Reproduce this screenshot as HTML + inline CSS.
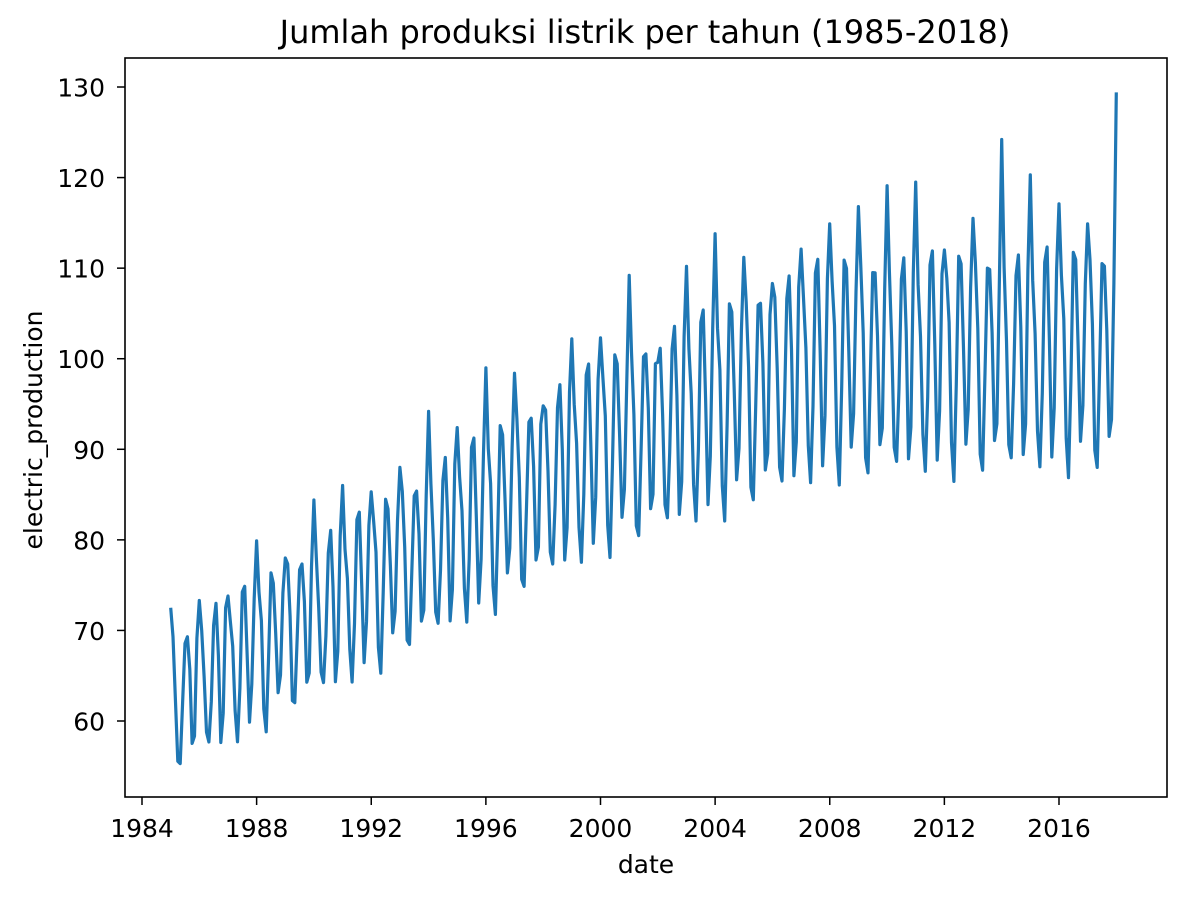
<!DOCTYPE html>
<html><head><meta charset="utf-8"><style>
body{margin:0;background:#fff;}
svg text{font-family:"DejaVu Sans","Liberation Sans",sans-serif;fill:#000;}
</style></head><body>
<svg id="s" width="1186" height="898" xmlns="http://www.w3.org/2000/svg">
<rect width="1186" height="898" fill="#fff"/>
<text x="645" y="43" font-size="32" text-anchor="middle">Jumlah produksi listrik per tahun (1985-2018)</text>
<g id="ticks"></g>
<path id="line" fill="none" stroke="#1f77b4" stroke-width="3.2" stroke-linejoin="round"/>
<rect x="125" y="58" width="1042" height="739" fill="none" stroke="#000" stroke-width="1.6"/>
<text x="646" y="873" font-size="25" text-anchor="middle">date</text>
<text transform="translate(42,430) rotate(-90)" font-size="25" text-anchor="middle">electric_production</text>
</svg>
<script>
var X=function(t){return 142+(t-1984)*28.656;};
var Y=function(v){return 721-(v-60)*9.057;};
var g=document.getElementById('ticks'),h='';
for(var yr=1984;yr<=2016;yr+=4){var x=X(yr);h+='<line x1="'+x+'" y1="797" x2="'+x+'" y2="805" stroke="#000" stroke-width="1.5"/><text x="'+x+'" y="837" font-size="25" text-anchor="middle">'+yr+'</text>';}
for(var v=60;v<=130;v+=10){var y=Y(v);h+='<line x1="117" y1="'+y+'" x2="125" y2="'+y+'" stroke="#000" stroke-width="1.5"/><text x="105" y="'+(y+9.5)+'" font-size="25" text-anchor="end">'+v+'</text>';}
g.innerHTML=h;
var J=[72.5,73.3,73.8,79.9,78,84.4,86,85.3,88,94.2,92.4,99,98.4,94.8,102.2,102.3,109.2,99.6,110.2,113.8,111.2,108.3,112.1,114.9,116.8,119.1,119.5,112,115.5,124.2,120.3,117.1,114.9,129.4];
var s=[1,0.55,0.1,-0.75,-0.95,-0.3,0.6,0.65,0.05,-0.8,-0.55,0.5];
function L(t){if(t<2000)return 63+(t-1985)*28/15;if(t<2008)return 91+(t-2000)*10/8;return 101+(t-2008)*0.1;}
var d='';
for(var i=0;i<=396;i++){var yi=Math.floor(i/12),m=i%12,t=1985+i/12;
var A=Math.min(9+0.25*(t-1985),14.5);
var v=m==0?J[yi]:L(t)+A*s[m]+Math.sin(i*1.7)*1.2;
if(i==2) v=62.4; if(i==4)v=55.3;
d+=(i?'L':'M')+X(t).toFixed(1)+','+Y(v).toFixed(1);}
document.getElementById('line').setAttribute('d',d);
</script>
</body></html>
